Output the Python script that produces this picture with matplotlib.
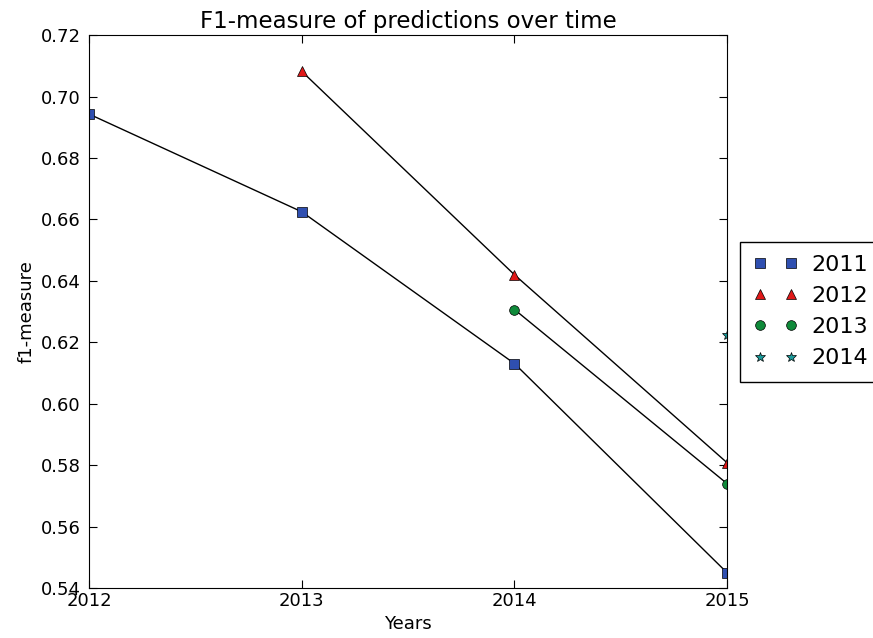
import numpy as np
import matplotlib
matplotlib.use('Agg')
import matplotlib.pyplot as plt

# f1-measure per training year, evaluated on later years
years_2011 = [2012, 2013, 2014, 2015]
f1_2011 = [0.6943, 0.6625, 0.6131, 0.5450]
years_2012 = [2013, 2014, 2015]
f1_2012 = [0.7082, 0.6420, 0.5808]
years_2013 = [2014, 2015]
f1_2013 = [0.6307, 0.5740]
years_2014 = [2015]
f1_2014 = [0.6223]

labels = ['2011', '2012', '2013', '2014']
markers = ['s', '^', 'o', '*']
colors = ['#2f4fb0', '#e01818', '#0f8a3a', '#1a9a9a']
xs = [years_2011, years_2012, years_2013, years_2014]
ys = [f1_2011, f1_2012, f1_2013, f1_2014]

plt.rc('font', family='DejaVu Sans')

fig = plt.figure(figsize=(8.73, 6.38), dpi=100)
ax = fig.add_axes([0.102, 0.078, 0.731, 0.867])

for x, y, lab, m, c in zip(xs, ys, labels, markers, colors):
    ax.plot(x, y, 'k-', linewidth=1.0)
    ax.plot(x, y, linestyle='none', marker=m, color=c, markeredgecolor='k',
            markeredgewidth=0.5, markersize=7, label=lab)

ax.set_xlim(2012, 2015)
ax.set_ylim(0.54, 0.72)
ax.set_xticks([2012, 2013, 2014, 2015])
ax.set_xticklabels(['2012', '2013', '2014', '2015'])
yt = np.arange(0.54, 0.7201, 0.02)
ax.set_yticks(yt)
ax.set_yticklabels(['%.2f' % v for v in yt])
ax.tick_params(direction='in', length=6, labelsize=13, top=True, right=True)
ax.tick_params(axis='x', pad=3)
ax.tick_params(axis='y', pad=6)
ax.set_xlabel('Years', fontsize=13, labelpad=3)
ax.set_ylabel('f1-measure', fontsize=13)
ax.set_title('F1-measure of predictions over time', fontsize=16.5, pad=5)

leg = ax.legend(loc='center left', bbox_to_anchor=(1.02, 0.5), numpoints=2,
                fontsize=16, fancybox=False, framealpha=1, edgecolor='k',
                borderaxespad=0, handletextpad=0.6, borderpad=0.6,
                labelspacing=0.5)
leg.get_frame().set_linewidth(1.0)

fig.savefig('out.png', dpi=100)
